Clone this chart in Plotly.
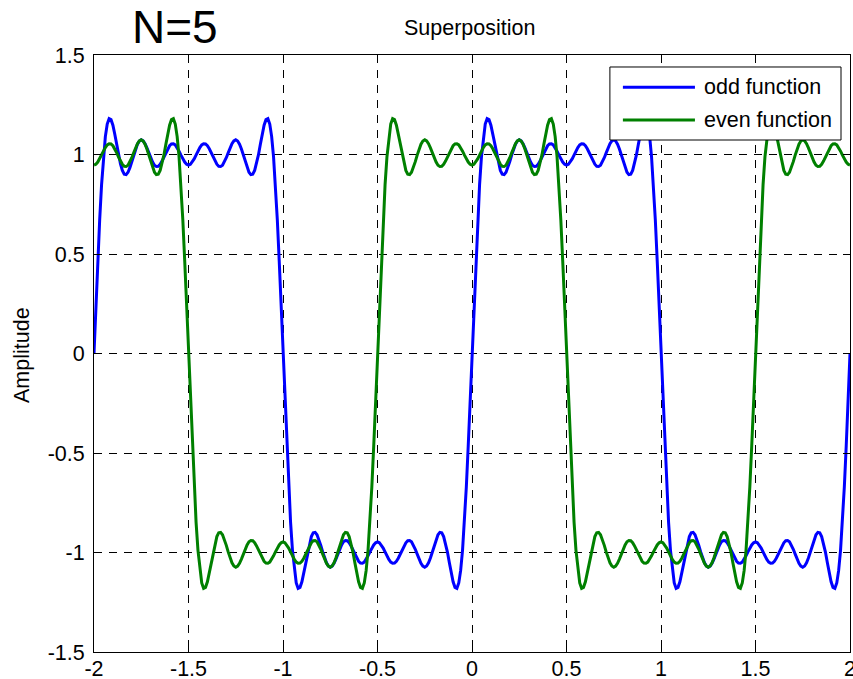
import plotly.graph_objects as go

# One positive half-wave ("lobe") of the odd function at
# x = 0.00, 0.01, ..., 1.00
lobe = [
    0.000, 0.238, 0.465, 0.671, 0.847, 0.988, 1.090, 1.153, 1.180, 1.175,
    1.147, 1.102, 1.050, 0.998, 0.953, 0.920, 0.901, 0.899, 0.911, 0.934,
    0.964, 0.997, 1.028, 1.052, 1.068, 1.074, 1.068, 1.054, 1.033, 1.008,
    0.984, 0.962, 0.946, 0.940, 0.941, 0.951, 0.967, 0.987, 1.009, 1.029,
    1.044, 1.053, 1.054, 1.048, 1.035, 1.017, 0.997, 0.978, 0.962, 0.951,
    0.947,
    0.951, 0.962, 0.978, 0.997, 1.017, 1.035, 1.048, 1.054, 1.053, 1.044,
    1.029, 1.009, 0.987, 0.967, 0.951, 0.941, 0.940, 0.946, 0.962, 0.984,
    1.008, 1.033, 1.054, 1.068, 1.074, 1.068, 1.052, 1.028, 0.997, 0.964,
    0.934, 0.911, 0.899, 0.901, 0.920, 0.953, 0.998, 1.050, 1.102, 1.147,
    1.175, 1.180, 1.153, 1.090, 0.988, 0.847, 0.671, 0.465, 0.238, 0.000,
]
lobe_step = 0.01

# Sign of each successive lobe
odd_signs = [1, -1, 1, -1]          # lobes starting at x = -2
even_signs = [1, -1, 1, -1, 1]      # lobes starting at x = -2.5
odd_start = -2.0
even_start = -2.5

x_ticks = [-2, -1.5, -1, -0.5, 0, 0.5, 1, 1.5, 2]
x_tick_text = ["-2", "-1.5", "-1", "-0.5", "0", "0.5", "1", "1.5", "2"]
y_ticks = [-1.5, -1, -0.5, 0, 0.5, 1, 1.5]
y_tick_text = ["-1.5", "-1", "-0.5", "0", "0.5", "1", "1.5"]

series_names = ["odd function", "even function"]
series_colors = ["#0000ff", "#008000"]


def assemble(signs, start):
    ys = []
    for i, s in enumerate(signs):
        seg = [s * v for v in lobe]
        ys.extend(seg if i == 0 else seg[1:])
    xs = [round(start + i * lobe_step, 4) for i in range(len(ys))]
    return xs, ys


def clip(xs, ys, lo, hi):
    pts = [(a, b) for a, b in zip(xs, ys) if lo - 1e-9 <= a <= hi + 1e-9]
    return [p[0] for p in pts], [p[1] for p in pts]


ox, oy = clip(*assemble(odd_signs, odd_start), -2, 2)
ex, ey = clip(*assemble(even_signs, even_start), -2, 2)

FONT = "Liberation Sans, Arial, Helvetica, sans-serif"

fig = go.Figure()
fig.add_trace(go.Scatter(x=ox, y=oy, mode="lines", name=series_names[0],
                         line=dict(color=series_colors[0], width=3),
                         showlegend=False))
fig.add_trace(go.Scatter(x=ex, y=ey, mode="lines", name=series_names[1],
                         line=dict(color=series_colors[1], width=3),
                         showlegend=False))

axis_common = dict(
    showline=True, linecolor="black", linewidth=1, mirror="ticks",
    ticks="inside", ticklen=7, tickcolor="black", tickwidth=1,
    showgrid=True, gridcolor="black", gridwidth=1, griddash="8px,7px",
    zeroline=False, automargin=False, ticklabeloverflow="allow",
    tickfont=dict(family=FONT, size=21.5, color="black"),
)

fig.update_xaxes(range=[-2, 2], tickvals=x_ticks, ticktext=x_tick_text,
                 ticklabelstandoff=-3, **axis_common)
fig.update_yaxes(range=[-1.5, 1.5], tickvals=y_ticks, ticktext=y_tick_text,
                 ticklabelstandoff=4, **axis_common)

# Legend box (drawn manually to mimic the MATLAB legend)
lx0, lx1, ly0, ly1 = 0.6824, 0.9881, 0.8576, 0.9799
line_x0, line_x1, text_x = 0.6996, 0.7949, 0.8037
row_y = [0.9459, 0.8911]
shapes = [dict(type="rect", xref="paper", yref="paper", x0=lx0, x1=lx1,
               y0=ly0, y1=ly1, fillcolor="white",
               line=dict(color="black", width=1), layer="above")]
annotations = []
for name, col, yy in zip(series_names, series_colors, row_y):
    shapes.append(dict(type="line", xref="paper", yref="paper",
                       x0=line_x0, x1=line_x1, y0=yy, y1=yy,
                       line=dict(color=col, width=3), layer="above"))
    annotations.append(dict(text=name, xref="paper", yref="paper", x=text_x,
                            y=yy, xanchor="left", yanchor="middle",
                            showarrow=False,
                            font=dict(family=FONT, size=21.5, color="black")))

annotations += [
    dict(text="N=5", xref="paper", yref="paper", x=0.1068, y=1.0469,
         xanchor="center", yanchor="middle", showarrow=False,
         font=dict(family=FONT, size=46, color="black")),
    dict(text="Superposition", xref="paper", yref="paper", x=0.4970, y=1.0452,
         xanchor="center", yanchor="middle", showarrow=False,
         font=dict(family=FONT, size=21.5, color="black")),
    dict(text="Amplitude", xref="paper", yref="paper", x=-0.0943, y=0.497,
         xanchor="center", yanchor="middle", showarrow=False, textangle=-90,
         font=dict(family=FONT, size=21.5, color="black")),
]

fig.update_layout(
    width=853, height=679,
    margin=dict(l=94, r=3, t=55, b=27, pad=0),
    paper_bgcolor="white", plot_bgcolor="white",
    shapes=shapes, annotations=annotations,
    showlegend=False,
)

fig.write_html(
    "out.html",
    config={"displayModeBar": False},
    post_script="document.body.style.margin='0';"
                "document.body.style.overflow='hidden';",
)
